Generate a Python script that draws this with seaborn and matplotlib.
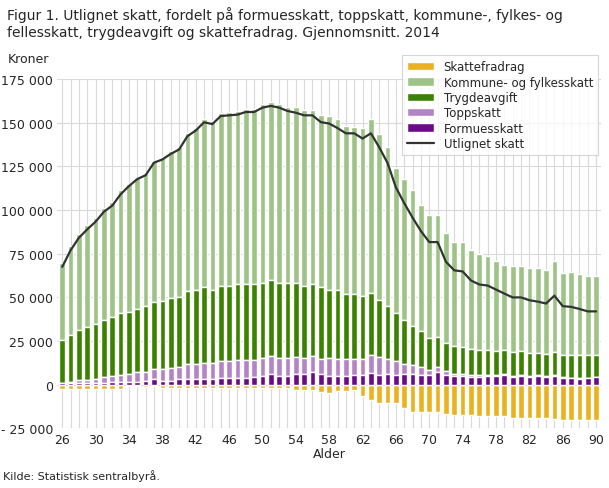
import numpy as np
import matplotlib
matplotlib.use("Agg")
import matplotlib.pyplot as plt
import seaborn as sns

ages = list(range(26, 91))
# cumulative layer tops (kroner, thousands)
formue_top = [1,1,1,1,1,1,1.5,1.5,1.5,1.5,2,3,2,2,3,3.5,3,3.5,3,4,4,4,4,4.5,5,6,5,5,6,6,7,6,
              5.2,5.2,5.2,5.7,5.7,6.9,5.7,6.3,5.7,6.3,6.3,5.7,5.7,7.5,5.7,5.2,5.2,4.6,4.6,5.2,5.2,5.7,4.2,4.8,4.2,4.8,4.2,4.8,3.8,3.6,3.4,3.6,4.2]
topp_top = [1,1.6,2.9,2.9,3.4,4.6,5.2,5.7,6.3,7.5,7.5,9.2,9.2,9.8,10.3,12,12,12.6,12.6,13.8,13.8,14.4,14.4,14.4,15.5,16.6,15.5,15.5,16,15.5,16.6,14.9,
            15.3,14.7,14.7,14.7,14.7,17.2,15.7,15,13.4,12,11.5,10,8.6,10,7.7,6.3,6.3,5.4,5.4,5.8,5.8,6.4,4.8,5.3,4.8,5.3,4.8,5.5,4.3,4.1,3.9,4.1,4.6]
trygd_top = [25.8,28.7,31.6,33.3,35,37.3,38.5,41.3,41.9,43.6,44.8,47.6,48.2,49.4,50.5,53.4,54,55.7,54.5,56.8,56.8,57.4,57.4,57.4,58.5,59.7,58,58,58,56.8,57.4,55.7,
             54.5,54,52,51.7,51,52.8,48.8,45.3,40.8,37.3,33.9,31,27,27.6,24.1,22.4,21.8,20.7,20,20,19.5,20,19,19.5,18.4,18.4,17.8,19,17.2,17.2,17.2,17.2,17.2]
total_top = [69.8,79.4,86.5,91.3,95.7,101.4,104.9,111.4,114.8,118.6,121.5,128.2,130.7,133.9,136.4,144,147.3,152,151,155.6,156.3,156.7,158.2,158.2,160.7,161.7,160.7,158.8,158.8,157.3,157.3,154.4,
             154,152,148,147.5,147,152,143.5,136,124,117.7,111.4,103,97,97,86.7,82,81.5,77,74.8,74,70.6,68.3,68,68,67,66.6,65.5,70.6,63.7,64.3,63.2,62,62]
skattefradrag = [-2.3,-2.3,-2.3,-2.3,-2.3,-2.3,-2.3,-2.3,-1,-0.8,-1.5,-1,-1.7,-1.7,-1.7,-1.7,-1.7,-1.7,-1.7,-1.7,-2,-2,-2,-2,-2,-2,-2,-2,-3,-3,-3,-4,
                 -4.8,-3.8,-3.8,-3.3,-6.3,-9,-10.2,-10.2,-10.6,-13.6,-15.9,-15.9,-15.9,-15.9,-16.6,-17.2,-17.2,-17.2,-17.8,-17.8,-18.2,-18.2,-18.9,-18.9,-18.9,-19.3,-19.3,-19.6,-20,-20,-20,-20.3,-20.3]
utlignet = [67.5,77,84.2,89,93.4,99.1,102.6,109.1,113.8,117.8,120,127.2,129,132.2,134.7,142.3,145.6,150.3,149.3,153.9,154.3,154.7,156.2,156.2,158.7,159.7,158.7,156.8,155.8,154.3,154.3,150.4,
            149.6,147,144,144,141,144,136,127,113,104,95.7,88,81.7,81.7,70.4,65.5,64.9,59.7,57.4,56.8,54.5,52.2,50,50,48.4,47.6,46.5,51,45,44.6,43.4,42,42]

k = 1000
formue = np.array(formue_top) * k
topp = (np.array(topp_top) - np.array(formue_top)) * k
trygd = (np.array(trygd_top) - np.array(topp_top)) * k
kommune = (np.array(total_top) - np.array(trygd_top)) * k
fradrag = np.array(skattefradrag) * k
line = np.array(utlignet) * k

sns.set_theme(style="whitegrid")
fig = plt.figure(figsize=(6.09, 4.89), dpi=100)
ax = fig.add_axes([0.094, 0.122, 0.893, 0.714])
x = np.arange(len(ages))
w = 0.68
c_fr, c_ko, c_tr, c_to, c_fo = "#EAB21F", "#9DC486", "#3A8200", "#B383C6", "#6A0A8A"
ax.bar(x, fradrag, w, color=c_fr, label="Skattefradrag", zorder=2)
ax.bar(x, kommune, w, bottom=formue + topp + trygd, color=c_ko, label="Kommune- og fylkesskatt", zorder=2)
ax.bar(x, trygd, w, bottom=formue + topp, color=c_tr, label="Trygdeavgift", zorder=2)
ax.bar(x, topp, w, bottom=formue, color=c_to, label="Toppskatt", zorder=2)
ax.bar(x, formue, w, color=c_fo, label="Formuesskatt", zorder=2)
sns.lineplot(x=x, y=line, ax=ax, color="#333333", lw=1.6, label="Utlignet skatt", zorder=3)

ax.set_xlim(-0.6, len(ages) - 0.4)
ax.set_ylim(-25000, 175000)
ax.set_yticks(np.arange(-25000, 175001, 25000))
ax.set_yticklabels([f"{v:,}".replace(",", " ").replace("-", "- ") for v in range(-25000, 175001, 25000)], fontsize=9)
ax.set_xticks(x)
ax.set_xticklabels([str(a) if (a - 26) % 4 == 0 else "" for a in ages], fontsize=9)
ax.tick_params(axis="both", length=0, pad=3)
ax.grid(True, color="#d9d9d9", lw=0.8)
for s in ax.spines.values():
    s.set_visible(False)
ax.set_xlabel("Alder", fontsize=9, labelpad=1)
ax.set_ylabel("")
handles, labels = ax.get_legend_handles_labels()
order = [labels.index(n) for n in ["Skattefradrag", "Kommune- og fylkesskatt", "Trygdeavgift",
                                   "Toppskatt", "Formuesskatt", "Utlignet skatt"]]
leg = ax.legend([handles[i] for i in order], [labels[i] for i in order],
                loc="upper right", fontsize=8.5, frameon=True, fancybox=False, edgecolor="#cccccc",
                handlelength=2.3, borderpad=0.4, labelspacing=0.2, bbox_to_anchor=(1.005, 1.085))
leg.get_frame().set_linewidth(0.8)
fig.text(0.012, 0.985, "Figur 1. Utlignet skatt, fordelt på formuesskatt, toppskatt, kommune-, fylkes- og\nfellesskatt, trygdeavgift og skattefradrag. Gjennomsnitt. 2014",
         fontsize=10, va="top", ha="left", linespacing=1.25)
fig.text(0.012, 0.878, "Kroner", fontsize=9, va="center")
fig.text(0.005, 0.015, "Kilde: Statistisk sentralbyrå.", fontsize=8, va="bottom")
fig.savefig("out.png", dpi=100)
